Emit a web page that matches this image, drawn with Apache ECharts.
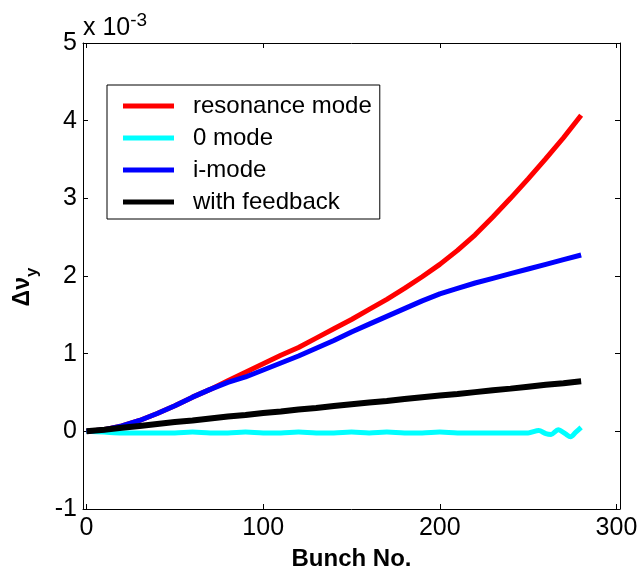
<!DOCTYPE html>
<html>
<head>
<meta charset="utf-8">
<script src="https://cdn.jsdelivr.net/npm/echarts@6/dist/echarts.min.js"></script>
<style>html,body{margin:0;padding:0;background:#fff}#c{width:644px;height:576px}</style>
</head>
<body>
<div id="c"></div>
<script>
// Bunch numbers (x) and Δν_y values in units of 1e-3
const bunch = [0,10,20,30,40,50,60,70,80,90,100,110,120,130,140,150,160,170,180,190,200,210,220,230,240,250,260,270,280];
const resonanceMode = [0,0.02,0.07,0.14,0.23,0.33,0.44,0.54,0.65,0.76,0.87,0.98,1.08,1.20,1.32,1.44,1.57,1.70,1.84,1.99,2.15,2.33,2.53,2.76,3.00,3.25,3.51,3.78,4.07];
const iMode = [0,0.02,0.07,0.14,0.23,0.33,0.44,0.54,0.63,0.70,0.79,0.88,0.97,1.07,1.17,1.28,1.38,1.48,1.58,1.68,1.77,1.84,1.91,1.97,2.03,2.09,2.15,2.21,2.27];
const withFeedback = [0,0.02,0.045,0.07,0.095,0.12,0.14,0.165,0.19,0.21,0.235,0.255,0.28,0.30,0.325,0.35,0.37,0.39,0.415,0.44,0.46,0.48,0.505,0.53,0.55,0.575,0.60,0.62,0.645];
const zeroBunch = [0,10,20,30,40,50,60,70,80,90,100,110,120,130,140,150,160,170,180,190,200,210,220,230,240,250,256,260,263,267,271,274,277,280];
const zeroMode = [0,-0.01,-0.02,-0.02,-0.02,-0.02,-0.01,-0.02,-0.02,-0.01,-0.02,-0.02,-0.01,-0.02,-0.02,-0.01,-0.02,-0.01,-0.02,-0.02,-0.01,-0.02,-0.02,-0.02,-0.02,-0.02,0.01,-0.03,-0.04,0.02,-0.03,-0.07,-0.01,0.05];
const xTicks = [0,100,200,300];
const seriesNames = ['resonance mode','0 mode','i-mode','with feedback'];

const pair = (xs, ys) => xs.map((x, i) => [x, ys[i]]);
const FONT = '"Liberation Sans", Arial, sans-serif';

const chart = echarts.init(document.getElementById('c'), null, {renderer: 'canvas'});
const axisCommon = {
  axisLine: {show: true, onZero: false, lineStyle: {color: '#000', width: 1}},
  axisTick: {show: true, inside: true, length: 5, lineStyle: {color: '#000'}},
  splitLine: {show: false}
};
chart.setOption({
  animation: false,
  backgroundColor: '#fff',
  grid: {left: 83, right: 24, top: 43, bottom: 65, show: false},
  xAxis: [
    Object.assign({}, axisCommon, {
      type: 'value', min: -2, max: 302, position: 'bottom',
      axisTick: Object.assign({}, axisCommon.axisTick, {customValues: xTicks}),
      axisLabel: {customValues: xTicks, color: '#000', fontSize: 25, fontFamily: FONT, margin: 7, formatter: v => String(v)},
      name: 'Bunch No.', nameLocation: 'middle', nameGap: 38,
      nameTextStyle: {fontSize: 24, fontWeight: 'bold', color: '#000', fontFamily: FONT}
    }),
    Object.assign({}, axisCommon, {
      type: 'value', min: -2, max: 302, position: 'top',
      axisTick: Object.assign({}, axisCommon.axisTick, {customValues: xTicks}),
      axisLabel: {show: false}
    })
  ],
  yAxis: [
    Object.assign({}, axisCommon, {
      type: 'value', min: -1, max: 5, interval: 1, position: 'left',
      axisLabel: {color: '#000', fontSize: 25, fontFamily: FONT, margin: 6},
      name: '{a|Δν}{b|y}', nameLocation: 'middle', nameRotate: 90, nameGap: 42,
      nameTextStyle: {
        color: '#000', fontFamily: FONT, padding: [0, 22, 0, 0],
        rich: {
          a: {fontSize: 23, fontWeight: 'bold', color: '#000', fontFamily: FONT, verticalAlign: 'top', lineHeight: 30},
          b: {fontSize: 17, fontWeight: 'bold', color: '#000', fontFamily: FONT, verticalAlign: 'bottom', lineHeight: 30, padding: [12, 0, 0, 0]}
        }
      }
    }),
    Object.assign({}, axisCommon, {
      type: 'value', min: -1, max: 5, interval: 1, position: 'right',
      axisLabel: {show: false}
    })
  ],
  legend: {
    orient: 'vertical', left: 107, top: 85,
    backgroundColor: '#fff', borderColor: '#000', borderWidth: 1, borderRadius: 0,
    padding: [9, 8, 5, 16],
    icon: 'rect',
    itemWidth: 51, itemHeight: 5, itemGap: 8,
    textStyle: {fontSize: 24, color: '#000', fontFamily: FONT, lineHeight: 24, padding: [0, 0, 0, 14]},
    data: seriesNames
  },
  graphic: [{
    type: 'text', left: 83, top: 11,
    style: {
      text: '{a|x 10}{b|-3}',
      rich: {
        a: {fontSize: 25, fontFamily: FONT, fill: '#000', verticalAlign: 'bottom', lineHeight: 30},
        b: {fontSize: 19, fontFamily: FONT, fill: '#000', verticalAlign: 'top', lineHeight: 30, padding: [0, 0, 14, 0]}
      }
    }
  }],
  series: [
    {name: seriesNames[0], type: 'line', data: pair(bunch, resonanceMode), showSymbol: false, symbol: 'none', lineStyle: {color: '#ff0000', width: 5}, itemStyle: {color: '#ff0000'}},
    {name: seriesNames[1], type: 'line', data: pair(zeroBunch, zeroMode), showSymbol: false, symbol: 'none', smooth: 0.3, lineStyle: {color: '#00ffff', width: 5}, itemStyle: {color: '#00ffff'}},
    {name: seriesNames[2], type: 'line', data: pair(bunch, iMode), showSymbol: false, symbol: 'none', lineStyle: {color: '#0000ff', width: 5}, itemStyle: {color: '#0000ff'}},
    {name: seriesNames[3], type: 'line', data: pair(bunch, withFeedback), showSymbol: false, symbol: 'none', lineStyle: {color: '#000000', width: 6}, itemStyle: {color: '#000000'}}
  ]
});
</script>
</body>
</html>
